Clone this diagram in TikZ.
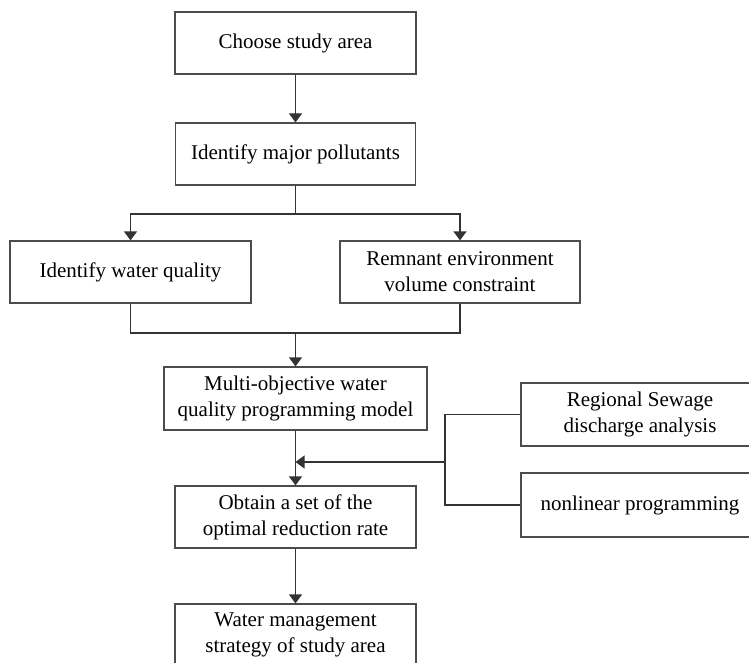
\documentclass[tikz,border=0pt]{standalone}
\usepackage{fontspec}
\setmainfont{Liberation Serif}
\usetikzlibrary{arrows.meta}
\begin{document}
\begin{tikzpicture}[x=1pt,y=-1pt,
  box/.style={draw=black!70, line width=1.2pt, minimum height=62pt, inner sep=0pt,
    align=center, font=\fontsize{21}{26}\selectfont, text=black},
  conn/.style={draw=black!80, line width=1.2pt},
  arr/.style={conn, -{Triangle[width=13pt,length=9pt]}}]
\useasboundingbox (0,0) rectangle (749,663);
\clip (0,0) rectangle (749,663);
\node[box, minimum width=241pt] (b1) at (295.5,43) {Choose study area};
\node[box, minimum width=240pt] (b2) at (295.5,154) {Identify major pollutants};
\node[box, minimum width=241pt] (b3) at (130.5,272) {Identify water quality};
\node[box, minimum width=240pt] (b4) at (460,272) {Remnant environment\\volume constraint};
\node[box, minimum width=263pt, minimum height=63pt] (b5) at (295.5,398.5) {Multi-objective water\\quality programming model};
\node[box, minimum width=241pt] (b6) at (295.5,517) {Obtain a set of the\\optimal reduction rate};
\node[box, minimum width=241pt] (b7) at (295.5,635) {Water management\\strategy of study area};
\node[box, minimum width=238pt, minimum height=63pt] (r1) at (640,414.5) {Regional Sewage\\discharge analysis};
\node[box, minimum width=238pt, minimum height=64pt] (r2) at (640,505) {nonlinear programming};
\coordinate (s1) at (295.5,214);
\coordinate (j1) at (295.5,333);
\coordinate (v1) at (445,414.5);
\coordinate (v2) at (445,505);
\coordinate (vm) at (445,462);
\coordinate (tip) at (295.5,462);
\draw[arr] (b1.south) -- (b2.north);
\draw[conn] (b2.south) -- (s1);
\draw[arr] (s1) -| (b3.north);
\draw[arr] (s1) -| (b4.north);
\draw[conn] (b3.south) |- (j1);
\draw[conn] (b4.south) |- (j1);
\draw[arr] (j1) -- (b5.north);
\draw[arr] (b5.south) -- (b6.north);
\draw[arr] (b6.south) -- (b7.north);
\draw[conn] (r1.west) -- (v1) -- (v2) -- (r2.west);
\draw[arr] (vm) -- (tip);
\end{tikzpicture}
\end{document}
